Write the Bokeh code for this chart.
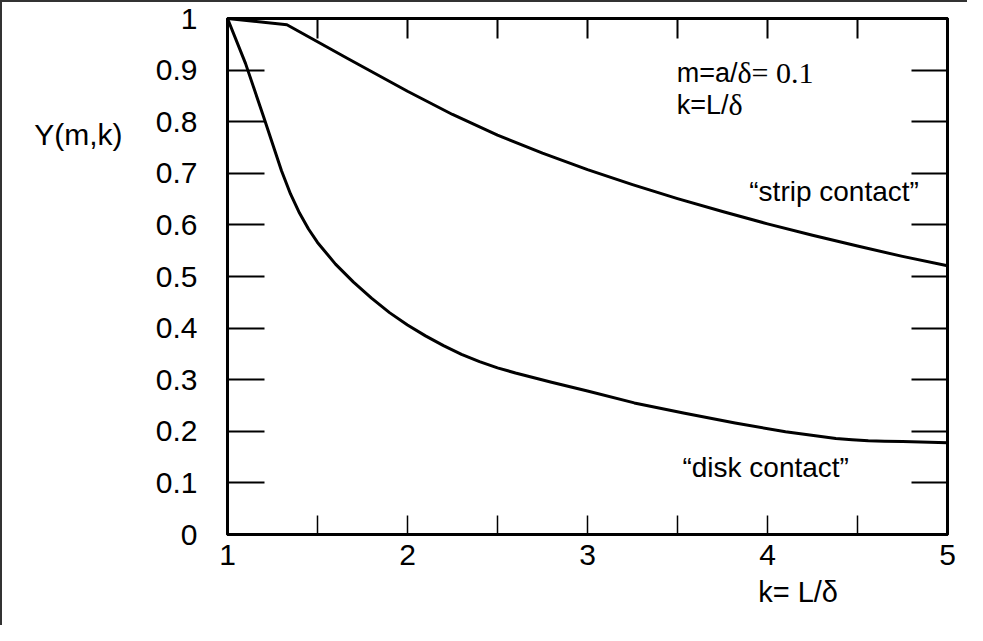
from bokeh.plotting import figure
from bokeh.models import LinearAxis, FixedTicker, Label, Range1d, CustomJSTickFormatter
from bokeh.embed import file_html
from bokeh.resources import INLINE

# ---- data ----
strip_k = [1.0, 1.33, 1.67, 2.0, 2.25, 2.5, 2.75, 3.0, 3.25, 3.5, 3.75, 4.0, 4.25, 4.5, 4.75, 5.0]
strip_y = [1.0, 0.988, 0.922, 0.859, 0.814, 0.774, 0.739, 0.707, 0.678, 0.651, 0.626, 0.602,
           0.580, 0.559, 0.539, 0.521]

disk_k = [1.0, 1.1, 1.2, 1.3, 1.35, 1.4, 1.45, 1.5, 1.6, 1.7, 1.8, 1.9, 2.0, 2.1, 2.2, 2.3,
          2.4, 2.5, 2.6, 2.8, 3.0, 3.26, 3.54, 3.82, 4.1, 4.38, 4.47, 4.56, 4.65, 4.75, 5.0]
disk_y = [1.0, 0.913, 0.81, 0.705, 0.66, 0.623, 0.592, 0.566, 0.524, 0.489, 0.458, 0.430,
          0.406, 0.385, 0.366, 0.349, 0.335, 0.323, 0.313, 0.295, 0.278, 0.255, 0.235,
          0.216, 0.199, 0.186, 0.1835, 0.1815, 0.1805, 0.180, 0.178]

x_ticks = [1, 2, 3, 4, 5]
x_minor_ticks = [1.5, 2.5, 3.5, 4.5]
x_tick_labels = ["1", "2", "3", "4", "5"]
y_ticks = [0, 0.1, 0.2, 0.3, 0.4, 0.5, 0.6, 0.7, 0.8, 0.9, 1.0]
y_tick_labels = ["0", "0.1", "0.2", "0.3", "0.4", "0.5", "0.6", "0.7", "0.8", "0.9", "1"]

y_title = "Y(m,k)"
x_title = "k= L/\u03b4"

SANS = "Liberation Sans"
SERIF = "Liberation Serif"

p = figure(width=967, height=625, x_range=Range1d(1, 5), y_range=Range1d(0, 1.0),
           output_backend="svg", toolbar_location=None,
           min_border_left=225, min_border_right=22, min_border_top=16, min_border_bottom=93)
p.grid.visible = False
p.outline_line_color = "black"
p.outline_line_width = 3
p.background_fill_color = "white"
p.border_fill_color = "white"
p.styles = {"border-top": "2px solid #333", "border-left": "2px solid #333"}

blank = CustomJSTickFormatter(code="return ''")

# left axis
ya = p.yaxis[0]
ya.ticker = FixedTicker(ticks=y_ticks)
ya.major_label_overrides = {t: l for t, l in zip(y_ticks, y_tick_labels)}
ya.axis_line_width = 3
ya.major_tick_in = 37
ya.major_tick_out = 0
ya.major_tick_line_width = 2
ya.minor_tick_line_color = None
ya.major_label_standoff = 30
ya.major_label_text_font = SANS
ya.major_label_text_font_size = "30px"
ya.major_label_text_color = "black"

# bottom axis
xa = p.xaxis[0]
xa.ticker = FixedTicker(ticks=x_ticks, minor_ticks=x_minor_ticks)
xa.major_label_overrides = {t: l for t, l in zip(x_ticks, x_tick_labels)}
xa.axis_line_width = 3
xa.major_tick_in = 19
xa.major_tick_out = 0
xa.minor_tick_in = 19
xa.minor_tick_out = 0
xa.major_tick_line_width = 1.5
xa.minor_tick_line_width = 1.5
xa.major_label_standoff = 10
xa.major_label_text_font = SANS
xa.major_label_text_font_size = "30px"
xa.major_label_text_color = "black"

# right axis (ticks only)
ra = LinearAxis(ticker=FixedTicker(ticks=y_ticks), formatter=blank)
ra.axis_line_width = 3
ra.major_tick_in = 36
ra.major_tick_out = 0
ra.major_tick_line_width = 2
ra.minor_tick_line_color = None
ra.major_label_standoff = 0
p.add_layout(ra, "right")

# top axis (ticks only)
ta = LinearAxis(ticker=FixedTicker(ticks=x_ticks, minor_ticks=x_minor_ticks), formatter=blank)
ta.axis_line_width = 3
ta.major_tick_in = 20
ta.major_tick_out = 0
ta.minor_tick_in = 20
ta.minor_tick_out = 0
ta.major_tick_line_width = 2
ta.minor_tick_line_width = 2
ta.major_label_standoff = 0
p.add_layout(ta, "above")

# axis titles placed as single labels of extra, line-less axes (outside the frame)
Y_TITLE_POS = 0.775
X_TITLE_POS = 4.17
yt = LinearAxis(ticker=FixedTicker(ticks=[Y_TITLE_POS]),
                major_label_overrides={Y_TITLE_POS: y_title})
yt.axis_line_color = None
yt.major_tick_line_color = None
yt.minor_tick_line_color = None
yt.major_tick_out = 0
yt.major_tick_in = 0
yt.major_label_standoff = 30
yt.major_label_text_font = SANS
yt.major_label_text_font_size = "30px"
yt.major_label_text_color = "black"
p.add_layout(yt, "left")

xt = LinearAxis(ticker=FixedTicker(ticks=[X_TITLE_POS]),
                major_label_overrides={X_TITLE_POS: x_title})
xt.axis_line_color = None
xt.major_tick_line_color = None
xt.minor_tick_line_color = None
xt.major_tick_out = 0
xt.major_tick_in = 0
xt.major_label_standoff = 8
xt.major_label_text_font = SANS
xt.major_label_text_font_size = "29px"
xt.major_label_text_color = "black"
p.add_layout(xt, "below")

# curves
p.line(strip_k, strip_y, line_color="black", line_width=3, line_join="round")
p.line(disk_k, disk_y, line_color="black", line_width=3, line_join="round")

def lab(x, y, text, size, font=SANS, align="left", baseline="middle", x_offset=0):
    p.add_layout(Label(x=x, y=y, text=text, text_font=font, text_font_size=size,
                       text_align=align, text_baseline=baseline, text_color="black",
                       x_offset=x_offset))

# parameter annotation (sans part, then serif part right after it)
lab(3.494, 0.895, "m=a/", "27px", align="right", x_offset=61)
lab(3.494, 0.895, "\u03b4= 0.1", "30px", font=SERIF, x_offset=61)
lab(3.494, 0.833, "k=L/", "27px", align="right", x_offset=52)
lab(3.494, 0.833, "\u03b4", "30px", font=SERIF, x_offset=52)

# curve labels
lab(4.37, 0.665, "\u201cstrip contact\u201d", "28px", align="center")
lab(3.99, 0.130, "\u201cdisk contact\u201d", "28px", align="center")

open("out.html", "w").write(file_html(p, INLINE))
